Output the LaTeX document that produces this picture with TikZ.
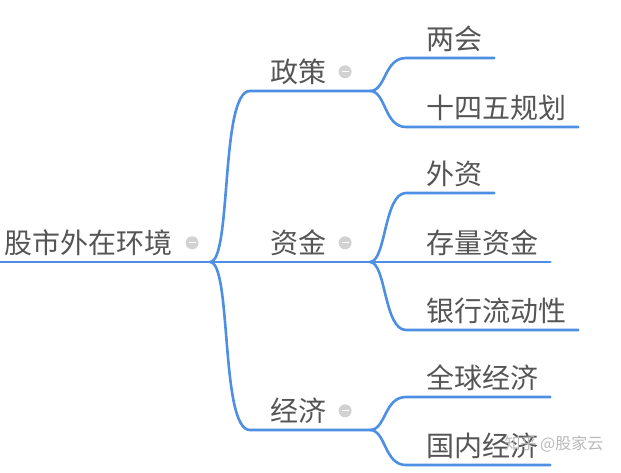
\documentclass[tikz,border=0pt]{standalone}
\usepackage{fontspec}
\setmainfont{Noto Sans CJK SC}
\usetikzlibrary{positioning,calc}
\definecolor{ink}{HTML}{555555}
\definecolor{branch}{HTML}{4C8FE3}
\definecolor{knob}{HTML}{D2D2D2}
\tikzset{topic/.style={anchor=south west,inner xsep=0pt,inner ysep=0pt,minimum height=38pt,text=ink,font=\fontsize{28pt}{30pt}\selectfont},
  btn/.style={circle,fill=knob,minimum size=13pt,inner sep=0pt,path picture={\draw[white,line width=1.3pt]([xshift=-3.5pt]path picture bounding box.center)--++(7pt,0);}},
  link/.style={draw=branch,line width=2.6pt,line cap=round},
  wmark/.style={text=gray!55,font=\fontsize{16pt}{18pt}\selectfont}}

\begin{document}
\begin{tikzpicture}[x=1pt,y=-1pt]
\useasboundingbox(0,0)rectangle(621,472);
% root and first level
\node[topic](root)at(4,262){股市外在环境};\node[btn,right=13pt of root](root-b){};
\node[topic](zc)at(270,91){政策};\node[btn,right=12pt of zc](zc-b){};
\node[topic](zj)at(270,262){资金};\node[btn,right=12pt of zj](zj-b){};
\node[topic](jj)at(270,430){经济};\node[btn,right=12pt of jj](jj-b){};
\coordinate(jr)at(210,262);\coordinate(jzc)at(370,91);\coordinate(jzj)at(370,262);\coordinate(jjj)at(370,430);
% leaves
\node[topic](lh)at(426,58){两会};\node[topic](ssw)at(426,127){十四五规划};
\node[topic](wz)at(426,193){外资};\node[topic](clzj)at(426,262){存量资金};\node[topic](yhld)at(426,330){银行流动性};
\node[topic](qqjj)at(426,397){全球经济};\node[topic](gnjj)at(426,465){国内经济};
\draw[link]([xshift=-4pt]root.south west)--(jr);
\foreach \n/\j in {zc/jzc,zj/jzj,jj/jjj}{\draw[link](jr)..controls +(22,0) and +(-30,0)..([xshift=-20pt]\n.south west)--(\j);}
\foreach \j/\n in {jzc/lh,jzc/ssw,jzj/wz,jzj/clzj,jzj/yhld,jjj/qqjj,jjj/gnjj}{\draw[link](\j)..controls +(16,0) and +(-22,0)..([xshift=-20pt]\n.south west)--([xshift=12pt]\n.south east);}
\node[wmark](wm)at(554,444){知乎 @股家云};
\end{tikzpicture}
\end{document}
